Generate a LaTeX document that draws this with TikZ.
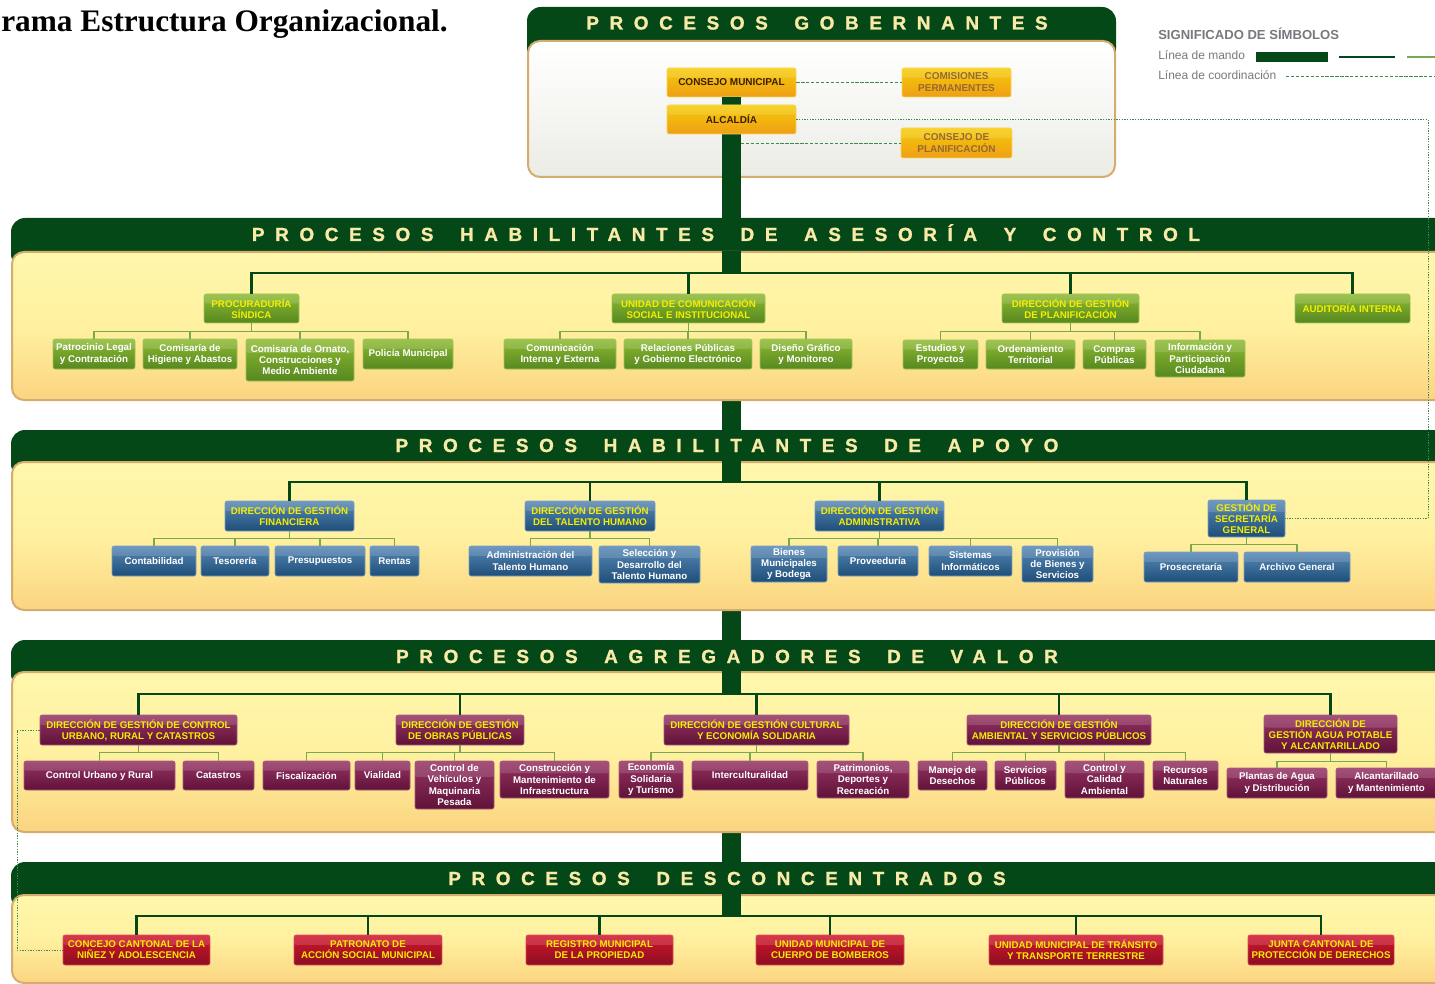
\documentclass[tikz,border=0pt]{standalone}
\usepackage{fontspec}
\setmainfont{Liberation Sans}
\newfontfamily\titlefont{Liberation Serif}
\newfontfamily\hdrfont[LetterSpace=56, BoldFeatures={FakeBold=1.2}]{Liberation Sans}
\usetikzlibrary{calc}

\definecolor{dkgreen}{RGB}{4,72,24}
\definecolor{hdrcream}{RGB}{250,234,168}
\definecolor{paneltan}{RGB}{212,172,112}
\definecolor{paneltop}{RGB}{255,247,172}
\definecolor{panelmid}{RGB}{255,241,160}
\definecolor{panelbot}{RGB}{251,212,128}
\definecolor{panelgray}{RGB}{236,236,230}
\definecolor{orgtop}{RGB}{246,204,8}
\definecolor{orgbot}{RGB}{238,158,22}
\definecolor{orgline}{RGB}{250,214,90}
\definecolor{gobtext}{RGB}{58,30,4}
\definecolor{gobsoft}{RGB}{150,105,50}
\definecolor{grntop}{RGB}{142,186,50}
\definecolor{grnbot}{RGB}{86,136,32}
\definecolor{grnline}{RGB}{160,196,90}
\definecolor{blutop}{RGB}{88,136,182}
\definecolor{blubot}{RGB}{30,78,120}
\definecolor{bluline}{RGB}{120,160,200}
\definecolor{martop}{RGB}{150,52,100}
\definecolor{marbot}{RGB}{96,18,56}
\definecolor{marline}{RGB}{170,90,130}
\definecolor{redtop}{RGB}{210,22,44}
\definecolor{redbot}{RGB}{140,14,34}
\definecolor{redline}{RGB}{220,80,90}
\definecolor{headyel}{RGB}{245,238,0}
\definecolor{subgreen}{RGB}{120,168,84}
\definecolor{coordgreen}{RGB}{60,140,80}
\definecolor{leggray}{RGB}{120,120,126}

\tikzset{
  box/.style={rounded corners=1.5pt, align=center, inner xsep=1pt, inner ysep=0pt, line width=0.4pt,
    font=\fontsize{7.3pt}{8.3pt}\selectfont\bfseries,
    path picture={\fill[white, opacity=0.14] (path picture bounding box.north west) rectangle
      ($(path picture bounding box.north east)!0.33!(path picture bounding box.south east)$);}},
  gob/.style={box, draw=orgline, top color=orgtop, bottom color=orgbot, text=gobtext,
    font=\fontsize{7.5pt}{9pt}\selectfont\bfseries},
  gobsoft/.style={gob, text=gobsoft},
  grn/.style={box, draw=grnline, top color=grntop, bottom color=grnbot, text=white},
  grnhead/.style={grn, text=headyel},
  blu/.style={box, draw=bluline, top color=blutop, bottom color=blubot, text=white},
  bluhead/.style={blu, text=headyel},
  mar/.style={box, draw=marline, top color=martop, bottom color=marbot, text=white},
  marhead/.style={mar, text=headyel},
  redhead/.style={box, draw=redline, top color=redtop, bottom color=redbot, text=headyel},
  trunk/.style={draw=dkgreen, line width=14.25pt},
  bus/.style={draw=dkgreen, line width=2.2pt},
  sub/.style={draw=subgreen, line width=1.1pt},
  dashline/.style={draw=coordgreen, line width=0.6pt, dash pattern=on 2.5pt off 1.2pt},
  dotline/.style={draw=coordgreen, line width=0.6pt, dash pattern=on 1pt off 1pt},
  band/.style={fill=dkgreen, rounded corners=10.5pt},
  panel/.style={draw=paneltan, line width=1.5pt, rounded corners=9pt},
  yelpanel/.style={panel, top color=paneltop, bottom color=panelbot, middle color=panelmid},
  hdr/.style={text=hdrcream, anchor=base, font=\hdrfont\bfseries\fontsize{14.2pt}{16pt}\selectfont},
  legtxt/.style={text=leggray, anchor=base west, inner sep=0pt, font=\fontsize{9pt}{10pt}\selectfont}
}

% caja: nombre, estilo, x1, y1, x2, y2, texto
\newcommand\obox[7]{\node[#2, minimum width={(#5-#3)*0.75pt}, minimum height={(#6-#4)*0.75pt}] (#1) at ({(#3+#5)/2},{(#4+#6)/2}) {#7};}
% hueco entre palabras de los titulos
\newcommand\hg{\hspace{8pt}}

\begin{document}
\begin{tikzpicture}[x=0.75pt,y=-0.75pt]
%%%%% START %%%%%
\useasboundingbox (0,0) rectangle (1435,984);
\clip (0,0) rectangle (1435,984);

% titulo y leyenda
\node[font=\titlefont\bfseries\fontsize{23.5pt}{26pt}\selectfont, anchor=base east, inner sep=0pt] (ttl) at (448,31.5) {rama Estructura Organizacional.};
\node[legtxt, font=\bfseries\fontsize{9.8pt}{11pt}\selectfont] (leg) at (1158,40) {SIGNIFICADO DE SÍMBOLOS};
\node[legtxt] (lmando) at (1158,60) {Línea de mando};
\node[legtxt] (lcoord) at (1158,80) {Línea de coordinación};
\fill[dkgreen] (1256,52) rectangle (1328,62);
\draw[bus] (1339,57) -- (1395,57);
\draw[sub] (1407,57) -- (1440,57);
\draw[dashline] (1286,76) -- (1440,76);

% procesos gobernantes
\fill[band] (527,7) rectangle (1116,62);
\draw[panel, top color=white, bottom color=panelgray] (528,41) rectangle (1115,177);
\node[hdr] (h1) at (817,29.5) {PROCESOS \hg GOBERNANTES};
\obox{cm}{gob}{667}{68}{796}{97}{CONSEJO MUNICIPAL}

% tronco
\coordinate (b2) at (731.5,273);
\coordinate (b3) at (731.5,482);
\coordinate (b4) at (731.5,694);
\coordinate (b5) at (731.5,916);
\draw[trunk] (cm.south) -- (b5);

\obox{alc}{gob}{667}{105}{796}{134}{ALCALDÍA}
\obox{com}{gobsoft}{902}{68}{1011}{97}{COMISIONES\\PERMANENTES}
\obox{cpl}{gobsoft}{901}{128}{1012}{158}{CONSEJO DE\\PLANIFICACIÓN}
\coordinate (trk) at (741,143);
\draw[dashline] (cm.east) -- (com.west);
\draw[dashline] (trk) -- (cpl.west);

% franjas
\fill[band] (11,218) rectangle (1460,268);
\draw[yelpanel] (12,252) rectangle (1460,400);
\fill[band] (11,430) rectangle (1460,478);
\draw[yelpanel] (12,462) rectangle (1460,610);
\fill[band] (11,640) rectangle (1460,688);
\draw[yelpanel] (12,672) rectangle (1460,832);
\fill[band] (11,862) rectangle (1460,910);
\draw[yelpanel] (12,895) rectangle (1460,983);
\draw[trunk] (b2) -- ++(0,-22);
\draw[trunk] (b3) -- ++(0,-21);
\draw[trunk] (b4) -- ++(0,-23);
\draw[trunk] (b5) -- ++(0,-22);

\node[hdr] (h2) at (726,241) {PROCESOS \hg HABILITANTES \hg DE \hg ASESORÍA \hg Y \hg CONTROL};
\node[hdr] (h3) at (727,452) {PROCESOS \hg HABILITANTES \hg DE \hg APOYO};
\node[hdr] (h4) at (727,663) {PROCESOS \hg AGREGADORES \hg DE \hg VALOR};
\node[hdr] (h5) at (727,885) {PROCESOS \hg DESCONCENTRADOS};

% asesoria y control
\obox{pro}{grnhead}{204}{294}{299}{323}{PROCURADURÍA\\SÍNDICA}
\obox{ucs}{grnhead}{612}{294}{765}{323}{UNIDAD DE COMUNICACIÓN\\SOCIAL E INSTITUCIONAL}
\obox{dpl}{grnhead}{1002}{294}{1139}{323}{DIRECCIÓN DE GESTIÓN\\DE PLANIFICACIÓN}
\obox{aud}{grnhead}{1295}{294}{1410}{323}{AUDITORÍA INTERNA}
\obox{plc}{grn}{53}{339}{135}{369}{Patrocinio Legal\\y Contratación}
\obox{cha}{grn}{143}{339}{237}{369}{Comisaría de\\Higiene y Abastos}
\obox{cor}{grn}{246}{339}{354}{381}{Comisaría de Ornato,\\Construcciones y\\Medio Ambiente}
\obox{pmu}{grn}{363}{339}{453}{369}{Policía Municipal}
\obox{cie}{grn}{504}{339}{616}{369}{Comunicación\\Interna y Externa}
\obox{rpg}{grn}{624}{339}{752}{369}{Relaciones Públicas\\y Gobierno Electrónico}
\obox{dgm}{grn}{760}{339}{852}{369}{Diseño Gráfico\\y Monitoreo}
\obox{eyp}{grn}{903}{340}{978}{369}{Estudios y\\Proyectos}
\obox{ord}{grn}{986}{340}{1075}{369}{Ordenamiento\\Territorial}
\obox{cpu}{grn}{1083}{340}{1146}{369}{Compras\\Públicas}
\obox{ipc}{grn}{1155}{340}{1245}{377}{Información y\\Participación\\Ciudadana}
\draw[bus] (pro.north) |- (b2) -| (aud.north);
\foreach \h in {ucs,dpl} \draw[bus] (\h.north |- b2) -- (\h.north);
\foreach \c in {plc,cha,cor,pmu} \draw[sub] (pro.south) -- ++(0,8) -| (\c.north);
\foreach \c in {cie,rpg,dgm} \draw[sub] (ucs.south) -- ++(0,8) -| (\c.north);
\foreach \c in {eyp,ord,cpu,ipc} \draw[sub] (dpl.south) -- ++(0,8) -| (\c.north);

% apoyo
\obox{fin}{bluhead}{225}{501}{354}{531}{DIRECCIÓN DE GESTIÓN\\FINANCIERA}
\obox{tal}{bluhead}{525}{501}{655}{531}{DIRECCIÓN DE GESTIÓN\\DEL TALENTO HUMANO}
\obox{adm}{bluhead}{815}{501}{944}{531}{DIRECCIÓN DE GESTIÓN\\ADMINISTRATIVA}
\obox{gsg}{bluhead}{1208}{500}{1285}{537}{GESTIÓN DE\\SECRETARÍA\\GENERAL}
\obox{con}{blu}{112}{546}{196}{576}{Contabilidad}
\obox{tes}{blu}{201}{546}{269}{576}{Tesorería}
\obox{pre}{blu}{275}{546}{365}{576}{Presupuestos}
\obox{ren}{blu}{370}{546}{419}{576}{Rentas}
\obox{ath}{blu}{469}{546}{592}{576}{Administración del\\Talento Humano}
\obox{sdt}{blu}{599}{546}{700}{583}{Selección y\\Desarrollo del\\Talento Humano}
\obox{bmb}{blu}{751}{546}{827}{582}{Bienes\\Municipales\\y Bodega}
\obox{prv}{blu}{838}{546}{918}{576}{Proveeduría}
\obox{sin}{blu}{929}{546}{1012}{576}{Sistemas\\Informáticos}
\obox{pbs}{blu}{1022}{546}{1093}{582}{Provisión\\de Bienes y\\Servicios}
\obox{psc}{blu}{1144}{552}{1238}{582}{Prosecretaría}
\obox{arg}{blu}{1244}{552}{1350}{582}{Archivo General}
\draw[bus] (fin.north) |- (b3) -| (gsg.north);
\foreach \h in {tal,adm} \draw[bus] (\h.north |- b3) -- (\h.north);
\foreach \c in {con,tes,pre,ren} \draw[sub] (fin.south) -- ++(0,7) -| (\c.north);
\foreach \c in {ath,sdt} \draw[sub] (tal.south) -- ++(0,7) -| (\c.north);
\foreach \c in {bmb,prv,sin,pbs} \draw[sub] (adm.south) -- ++(0,7) -| (\c.north);
\foreach \c in {psc,arg} \draw[sub] (gsg.south) -- ++(0,7) -| (\c.north);

% agregadores de valor
\obox{cur}{marhead}{40}{715}{237}{745}{DIRECCIÓN DE GESTIÓN DE CONTROL\\URBANO, RURAL Y CATASTROS}
\obox{obp}{marhead}{396}{715}{524}{745}{DIRECCIÓN DE GESTIÓN\\DE OBRAS PÚBLICAS}
\obox{cul}{marhead}{664}{715}{849}{745}{DIRECCIÓN DE GESTIÓN CULTURAL\\Y ECONOMÍA SOLIDARIA}
\obox{amb}{marhead}{967}{715}{1151}{745}{DIRECCIÓN DE GESTIÓN\\AMBIENTAL Y SERVICIOS PÚBLICOS}
\obox{agu}{marhead}{1264}{715}{1397}{753}{DIRECCIÓN DE\\GESTIÓN AGUA POTABLE\\Y ALCANTARILLADO}
\obox{cuy}{mar}{24}{761}{175}{790}{Control Urbano y Rural}
\obox{cat}{mar}{183}{761}{254}{790}{Catastros}
\obox{fis}{mar}{263}{761}{350}{790}{Fiscalización}
\obox{via}{mar}{355}{761}{410}{790}{Vialidad}
\obox{cvm}{mar}{415}{761}{494}{809}{Control de\\Vehículos y\\Maquinaria\\Pesada}
\obox{cmi}{mar}{500}{761}{609}{798}{Construcción y\\Mantenimiento de\\Infraestructura}
\obox{est}{mar}{619}{761}{683}{798}{Economía\\Solidaria\\y Turismo}
\obox{int}{mar}{692}{761}{808}{790}{Interculturalidad}
\obox{pdr}{mar}{817}{761}{909}{798}{Patrimonios,\\Deportes y\\Recreación}
\obox{mde}{mar}{918}{761}{987}{790}{Manejo de\\Desechos}
\obox{spu}{mar}{995}{761}{1056}{790}{Servicios\\Públicos}
\obox{cca}{mar}{1065}{761}{1144}{798}{Control y\\Calidad\\Ambiental}
\obox{rna}{mar}{1153}{761}{1218}{790}{Recursos\\Naturales}
\obox{pad}{mar}{1227}{768}{1327}{798}{Plantas de Agua\\y Distribución}
\obox{alm}{mar}{1336}{768}{1437}{798}{Alcantarillado\\y Mantenimiento}
\draw[bus] (cur.north) |- (b4) -| (agu.north);
\foreach \h in {obp,cul,amb} \draw[bus] (\h.north |- b4) -- (\h.north);
\foreach \c in {cuy,cat} \draw[sub] (cur.south) -- ++(0,7) -| (\c.north);
\foreach \c in {fis,via,cvm,cmi} \draw[sub] (obp.south) -- ++(0,7) -| (\c.north);
\foreach \c in {est,int,pdr} \draw[sub] (cul.south) -- ++(0,7) -| (\c.north);
\foreach \c in {mde,spu,cca,rna} \draw[sub] (amb.south) -- ++(0,7) -| (\c.north);
\foreach \c in {pad,alm} \draw[sub] (agu.south) -- ++(0,8) -| (\c.north);

% desconcentrados
\obox{ccn}{redhead}{63}{935}{210}{965}{CONCEJO CANTONAL DE LA\\NIÑEZ Y ADOLESCENCIA}
\obox{pat}{redhead}{294}{935}{442}{965}{PATRONATO DE\\ACCIÓN SOCIAL MUNICIPAL}
\obox{reg}{redhead}{526}{935}{673}{965}{REGISTRO MUNICIPAL\\DE LA PROPIEDAD}
\obox{bom}{redhead}{756}{935}{904}{965}{UNIDAD MUNICIPAL DE\\CUERPO DE BOMBEROS}
\obox{tra}{redhead}{989}{935}{1163}{965}{UNIDAD MUNICIPAL DE TRÁNSITO\\Y TRANSPORTE TERRESTRE}
\obox{jun}{redhead}{1248}{935}{1394}{965}{JUNTA CANTONAL DE\\PROTECCIÓN DE DERECHOS}
\draw[bus] (ccn.north) |- (b5) -| (jun.north);
\foreach \h in {pat,reg,bom,tra} \draw[bus] (\h.north |- b5) -- (\h.north);

% lineas de coordinacion
\coordinate (rgt) at (1428,300);
\coordinate (lft) at (17,850);
\draw[dotline] (alc.east) -| (rgt) |- (gsg.east);
\draw[dotline] (cur.west) -| (lft) |- (ccn.west);
%%%%% END %%%%%
\end{tikzpicture}
\end{document}
